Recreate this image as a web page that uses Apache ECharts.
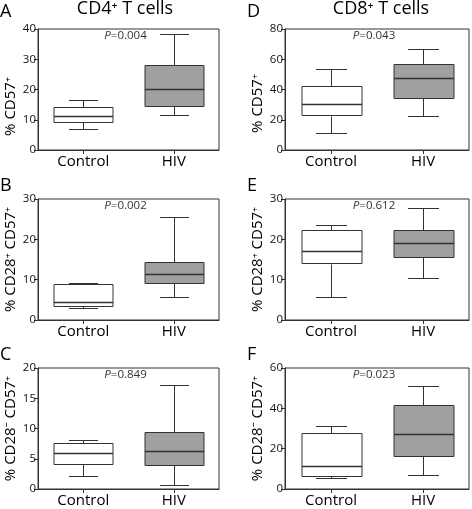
<!DOCTYPE html>
<html>
<head>
<meta charset="utf-8">
<script src="https://cdn.jsdelivr.net/npm/echarts@6/dist/echarts.min.js"></script>
<style>
html,body{margin:0;padding:0;background:#fff;}
#chart{width:472px;height:509px;}
</style>
</head>
<body>
<div id="chart"></div>
<script>
// ---- data ----
const categories = ['Control', 'HIV'];
// [min, Q1, median, Q3, max]
const panelA_control = [6.8, 9.4, 11.2, 14.3, 16.5];
const panelA_hiv     = [11.6, 14.5, 20.1, 28.1, 38.2];
const panelB_control = [2.9, 3.5, 4.4, 8.9, 9.1];
const panelB_hiv     = [5.7, 9.1, 11.4, 14.3, 25.6];
const panelC_control = [2.1, 4.1, 5.9, 7.55, 8.1];
const panelC_hiv     = [0.7, 3.9, 6.3, 9.4, 17.2];
const panelD_control = [11.1, 22.7, 30.2, 42.0, 53.3];
const panelD_hiv     = [22.4, 34.2, 47.3, 56.7, 67.1];
const panelE_control = [5.7, 13.9, 17.1, 22.2, 23.5];
const panelE_hiv     = [10.5, 15.5, 19.0, 22.2, 27.7];
const panelF_control = [5.3, 6.6, 11.2, 27.8, 31.2];
const panelF_hiv     = [7.1, 16.2, 27.3, 41.7, 51.2];
const yMax      = [40, 30, 20, 80, 30, 60];
const yInterval = [10, 10, 5, 20, 10, 20];
const pValues   = ['0.004', '0.002', '0.849', '0.043', '0.612', '0.023'];
const yNames = ['% CD57⁺', '% CD28⁺ CD57⁺', '% CD28⁻ CD57⁺', '% CD57⁺', '% CD28⁺ CD57⁺', '% CD28⁻ CD57⁺'];
const panelLetters = ['A', 'B', 'C', 'D', 'E', 'F'];
const columnTitles = ['CD4⁺ T cells', 'CD8⁺ T cells'];

const panels = [
  [panelA_control, panelA_hiv], [panelB_control, panelB_hiv], [panelC_control, panelC_hiv],
  [panelD_control, panelD_hiv], [panelE_control, panelE_hiv], [panelF_control, panelF_hiv]
];

// ---- layout ----
const FONT = '"Open Sans", "Noto Sans", "DejaVu Sans", sans-serif';
const colLeft = [38, 285], colWidth = [181, 184];
const rowTop = [29, 199, 368], rowH = 121;
const fills = ['#ffffff', '#a0a0a0'];
const lineColor = '#333333';
const textColor = '#000000';

const chart = echarts.init(document.getElementById('chart'), null, {renderer: 'canvas'});

const grids = [], xAxes = [], yAxes = [], series = [], titles = [];
for (let i = 0; i < 6; i++) {
  const col = i < 3 ? 0 : 1, row = i % 3;
  grids.push({left: colLeft[col], top: rowTop[row], width: colWidth[col], height: rowH,
    show: true, borderColor: lineColor, borderWidth: 1, backgroundColor: 'transparent'});
  xAxes.push({type: 'category', gridIndex: i, data: categories,
    axisLine: {show: true, lineStyle: {color: lineColor}},
    axisTick: {show: true, alignWithLabel: true, length: 4, lineStyle: {color: lineColor}},
    axisLabel: {fontSize: 15, color: textColor, margin: 4, fontFamily: FONT},
    splitLine: {show: false}});
  const shortName = row === 0;
  yAxes.push({type: 'value', gridIndex: i, min: 0, max: yMax[i], interval: yInterval[i],
    name: yNames[i], nameLocation: 'middle', nameGap: 20,
    nameTextStyle: {fontSize: 15, color: textColor, fontFamily: FONT,
      padding: shortName ? [0, col === 0 ? 34 : 28, 0, 0] : 0},
    axisLine: {show: true, lineStyle: {color: lineColor}},
    axisTick: {show: true, length: 4, lineStyle: {color: lineColor}},
    axisLabel: {fontSize: 11.5, color: '#111', margin: 2, fontFamily: FONT},
    splitLine: {show: false}});
  const data = panels[i].map((v, k) => [k].concat(v));
  series.push({
    type: 'custom', xAxisIndex: i, yAxisIndex: i, data: data,
    encode: {x: 0, y: [1, 2, 3, 4, 5]},
    renderItem: function (params, api) {
      const c = api.value(0);
      const band = api.size([1, 0])[0];
      const bw = band * 0.65, cw = band * 0.33;
      const pMin = api.coord([c, api.value(1)]);
      const pQ1 = api.coord([c, api.value(2)]);
      const pMed = api.coord([c, api.value(3)]);
      const pQ3 = api.coord([c, api.value(4)]);
      const pMax = api.coord([c, api.value(5)]);
      const x = Math.round(pMed[0]) + 0.5;
      const r = v => Math.round(v) + 0.5;
      const ls = {stroke: lineColor, lineWidth: 1};
      return {type: 'group', children: [
        {type: 'line', shape: {x1: x, y1: r(pMin[1]), x2: x, y2: r(pQ1[1])}, style: ls},
        {type: 'line', shape: {x1: x, y1: r(pQ3[1]), x2: x, y2: r(pMax[1])}, style: ls},
        {type: 'line', shape: {x1: Math.round(x - cw / 2), y1: r(pMin[1]), x2: Math.round(x + cw / 2), y2: r(pMin[1])}, style: ls},
        {type: 'line', shape: {x1: Math.round(x - cw / 2), y1: r(pMax[1]), x2: Math.round(x + cw / 2), y2: r(pMax[1])}, style: ls},
        {type: 'rect', shape: {x: Math.round(x - bw / 2), y: r(pQ3[1]), width: Math.round(bw), height: Math.round(pQ1[1] - pQ3[1])},
          style: {fill: fills[c], stroke: lineColor, lineWidth: 1}},
        {type: 'line', shape: {x1: Math.round(x - bw / 2), y1: r(pMed[1]), x2: Math.round(x - bw / 2) + Math.round(bw), y2: r(pMed[1])},
          style: {stroke: lineColor, lineWidth: 1.3}}
      ]};
    }
  });
  // P-value label
  titles.push({text: '{i|P}{n|=' + pValues[i] + '}', left: colLeft[col] + colWidth[col] / 2 - 3,
    top: rowTop[row] + 1, textAlign: 'center', padding: 0,
    textStyle: {fontWeight: 'normal', rich: {
      i: {fontSize: 11.5, fontStyle: 'italic', fontWeight: 'normal', color: '#333', fontFamily: FONT},
      n: {fontSize: 11.5, fontWeight: 'normal', color: '#333', fontFamily: FONT}}}});
  // panel letter
  titles.push({text: panelLetters[i], left: col === 0 ? 0 : 247, top: rowTop[row] - (row === 0 ? 26 : 22), padding: 0,
    textStyle: {fontSize: 18, fontWeight: 'normal', color: textColor, fontFamily: FONT}});
}
titles.push({text: columnTitles[0], left: 125, top: 0, textAlign: 'center', padding: 0,
  textStyle: {fontSize: 18, fontWeight: 'normal', color: textColor, fontFamily: FONT}});
titles.push({text: columnTitles[1], left: 381, top: 0, textAlign: 'center', padding: 0,
  textStyle: {fontSize: 18, fontWeight: 'normal', color: textColor, fontFamily: FONT}});

chart.setOption({
  backgroundColor: '#ffffff',
  animation: false,
  title: titles,
  grid: grids,
  xAxis: xAxes,
  yAxis: yAxes,
  series: series
});
</script>
</body>
</html>
